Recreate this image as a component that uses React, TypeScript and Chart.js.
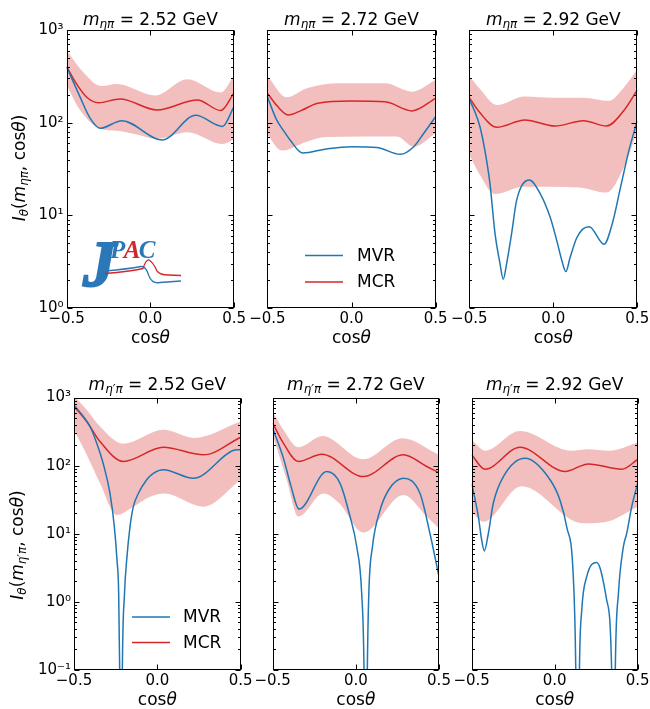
import React, { useEffect, useRef } from 'react';
import { Chart, registerables } from 'chart.js';

Chart.register(...registerables);

type Pt = [number, number];

const BLUE = '#1f77b4';
const RED = '#d62728';
const BAND = 'rgba(214, 39, 40, 0.3)';
const LOGO_BLUE = '#2b78b8';
const FONT = '"DejaVu Sans", sans-serif';

const xTicks = [-0.5, 0, 0.5];
const yTicksTop = [1, 10, 100, 1000];
const yTicksBottom = [0.1, 1, 10, 100, 1000];
const masses = ['2.52', '2.72', '2.92'];
const legendLabels = ['MVR', 'MCR'];

// ---------- eta pi, 2.52 GeV ----------
const mvrEtaPi252: Pt[] = [[-0.5, 400], [-0.42, 190], [-0.36, 112], [-0.3, 87], [-0.17, 105], [0.07, 65], [0.27, 120], [0.43, 91], [0.5, 151]];
const mcrEtaPi252: Pt[] = [[-0.5, 402], [-0.44, 260], [-0.38, 188], [-0.31, 164], [-0.18, 180], [0.04, 137], [0.28, 176], [0.42, 135], [0.5, 211]];
const hiEtaPi252: Pt[] = [[-0.5, 608], [-0.42, 385], [-0.29, 248], [-0.2, 262], [0.03, 197], [0.22, 294], [0.42, 211], [0.5, 327]];
const loEtaPi252: Pt[] = [[-0.5, 255], [-0.42, 137], [-0.3, 86], [-0.2, 82], [-0.1, 76], [0.04, 67], [0.22, 79], [0.43, 59], [0.5, 66]];

// ---------- eta pi, 2.72 GeV ----------
const mvrEtaPi272: Pt[] = [[-0.5, 190], [-0.445, 107], [-0.4, 80], [-0.365, 65], [-0.29, 47], [-0.15, 52], [0.0, 55], [0.15, 54], [0.29, 45.5], [0.37, 55], [0.43, 77], [0.5, 116]];
const mcrEtaPi272: Pt[] = [[-0.5, 208], [-0.44, 150], [-0.375, 121], [-0.3, 135], [-0.2, 162], [0.0, 171], [0.2, 168], [0.36, 134], [0.5, 183]];
const hiEtaPi272: Pt[] = [[-0.5, 319], [-0.385, 188], [-0.27, 234], [-0.07, 266], [0.2, 266], [0.36, 216], [0.5, 288]];
const loEtaPi272: Pt[] = [[-0.5, 74], [-0.415, 50], [-0.27, 62], [-0.15, 70], [0.27, 71], [0.37, 55], [0.5, 77]];

// ---------- eta pi, 2.92 GeV ----------
const mvrEtaPi292: Pt[] = [[-0.5, 179], [-0.47, 135], [-0.437, 91], [-0.407, 50], [-0.377, 22], [-0.347, 6.4], [-0.317, 3.0], [-0.298, 2.04], [-0.278, 3.0], [-0.248, 6.4], [-0.218, 14.6], [-0.143, 24], [-0.079, 17.3], [-0.02, 9.7], [0.02, 5.4], [0.05, 3.3], [0.075, 2.47], [0.1, 3.5], [0.139, 5.7], [0.175, 7.1], [0.214, 7.55], [0.302, 4.87], [0.35, 8], [0.4, 20], [0.45, 50], [0.5, 105]];
const mcrEtaPi292: Pt[] = [[-0.5, 186], [-0.44, 130], [-0.337, 89], [-0.169, 107], [0.01, 92], [0.18, 105], [0.317, 92], [0.42, 135], [0.5, 225]];
const hiEtaPi292: Pt[] = [[-0.5, 319], [-0.44, 235], [-0.337, 155], [-0.17, 192], [0.0, 186], [0.18, 186], [0.33, 172], [0.42, 240], [0.5, 377]];
const loEtaPi292: Pt[] = [[-0.5, 45], [-0.44, 28], [-0.347, 17], [-0.18, 20.4], [0.15, 20], [0.317, 17.6], [0.42, 33], [0.5, 82]];

// ---------- eta' pi, 2.52 GeV ----------
const mvrEtaPrPi252: Pt[] = [[-0.5, 780], [-0.404, 375], [-0.364, 214], [-0.32, 97], [-0.284, 39], [-0.258, 12.7], [-0.242, 4.1], [-0.232, 1.34], [-0.226, 0.1], [-0.218, 0.0001], [-0.21, 0.1], [-0.197, 1.34], [-0.184, 4.1], [-0.164, 12.7], [-0.144, 25], [-0.114, 39], [-0.064, 62], [-0.024, 77], [0.036, 87], [0.216, 65], [0.45, 165], [0.5, 172]];
const mcrEtaPrPi252: Pt[] = [[-0.5, 738], [-0.424, 444], [-0.344, 226], [-0.204, 115], [0.036, 186], [0.276, 144], [0.5, 261]];
const hiEtaPrPi252: Pt[] = [[-0.5, 1050], [-0.424, 660], [-0.344, 375], [-0.204, 209], [0.036, 335], [0.22, 255], [0.5, 444]];
const loEtaPrPi252: Pt[] = [[-0.5, 335], [-0.424, 144], [-0.344, 55], [-0.244, 18.9], [-0.144, 25], [-0.044, 35], [0.04, 39], [0.276, 25], [0.5, 62]];

// ---------- eta' pi, 2.72 GeV ----------
const mvrEtaPrPi272: Pt[] = [[-0.5, 355], [-0.436, 130], [-0.39, 50], [-0.342, 23], [-0.175, 82], [-0.095, 55], [-0.035, 17.9], [0.005, 6.5], [0.035, 1.34], [0.049, 0.1], [0.059, 0.0001], [0.069, 0.1], [0.078, 1.34], [0.1, 6.5], [0.145, 22], [0.2, 45], [0.286, 65], [0.386, 39], [0.446, 10], [0.5, 2.35]];
const mcrEtaPrPi272: Pt[] = [[-0.5, 420], [-0.436, 214], [-0.346, 115], [-0.205, 147], [0.045, 69], [0.286, 144], [0.426, 97], [0.5, 79]];
const hiEtaPrPi272: Pt[] = [[-0.5, 622], [-0.436, 335], [-0.346, 186], [-0.2, 273], [0.045, 124], [0.28, 253], [0.5, 144]];
const loEtaPrPi272: Pt[] = [[-0.5, 283], [-0.416, 62], [-0.346, 17.9], [-0.195, 39], [-0.1, 28], [0.045, 10.4], [0.286, 37], [0.426, 17.9], [0.5, 12]];

// ---------- eta' pi, 2.92 GeV ----------
const mvrEtaPrPi292: Pt[] = [[-0.5, 55], [-0.46, 17.9], [-0.44, 8.1], [-0.424, 5.6], [-0.4, 10], [-0.37, 28], [-0.309, 69], [-0.179, 128], [-0.028, 62], [0.032, 31], [0.072, 12.7], [0.112, 2.35], [0.127, 0.1], [0.138, 0.0001], [0.149, 0.1], [0.163, 0.76], [0.193, 2.35], [0.253, 3.78], [0.313, 1.07], [0.343, 0.1], [0.354, 0.0001], [0.365, 0.1], [0.384, 1.34], [0.414, 6.5], [0.434, 10.2], [0.464, 25], [0.5, 55]];
const mcrEtaPrPi292: Pt[] = [[-0.5, 144], [-0.42, 88.5], [-0.209, 186], [0.062, 82], [0.203, 106], [0.404, 88.5], [0.5, 123]];
const hiEtaPrPi292: Pt[] = [[-0.5, 239], [-0.42, 166], [-0.21, 323], [0.1, 166], [0.2, 174], [0.33, 165], [0.5, 218]];
const loEtaPrPi292: Pt[] = [[-0.5, 21], [-0.43, 15], [-0.2, 50], [0.17, 14.3], [0.3, 14.8], [0.5, 25]];

type Seg = { t: string; it?: boolean; sub?: boolean };

function drawRich(ctx: CanvasRenderingContext2D, segs: Seg[], x: number, y: number, size: number, align: 'center' | 'left') {
  const fonts = segs.map((s) => `${s.it ? 'italic ' : ''}${(s.sub ? size * 0.7 : size).toFixed(2)}px ${FONT}`);
  const widths = segs.map((s, i) => {
    ctx.font = fonts[i];
    return ctx.measureText(s.t).width;
  });
  const total = widths.reduce((a, b) => a + b, 0);
  let px = align === 'center' ? x - total / 2 : x;
  ctx.textAlign = 'left';
  ctx.textBaseline = 'alphabetic';
  segs.forEach((s, i) => {
    ctx.font = fonts[i];
    ctx.fillText(s.t, px, y + (s.sub ? size * 0.2 : 0));
    px += widths[i];
  });
}

const SUP: Record<string, string> = { '-': '\u207b', '0': '\u2070', '1': '\u00b9', '2': '\u00b2', '3': '\u00b3' };
const fmtLog = (v: number) => '10' + String(Math.round(Math.log10(v))).split('').map((c) => SUP[c]).join('');
const fmtX = (v: number) => (v < 0 ? '\u2212' : '') + Math.abs(v).toFixed(1);

interface Legend { x0: number; x1: number; tx: number; y1: number; y2: number }
interface PanelCfg {
  area: [number, number, number, number];
  yTicks: number[];
  mvr: Pt[]; mcr: Pt[]; hi: Pt[]; lo: Pt[];
  meson: string; mass: string;
  showY: boolean;
  ylabel?: { x: number; y: number };
  titleDy: number;
  legend?: Legend;
  logo?: boolean;
}

const panels: PanelCfg[] = [
  { area: [66.6, 30, 234.2, 308], yTicks: yTicksTop, mvr: mvrEtaPi252, mcr: mcrEtaPi252, hi: hiEtaPi252, lo: loEtaPi252, meson: '\u03b7\u03c0', mass: masses[0], showY: true, ylabel: { x: 25, y: 168 }, titleDy: 5, logo: true },
  { area: [267.4, 30, 435.6, 308], yTicks: yTicksTop, mvr: mvrEtaPi272, mcr: mcrEtaPi272, hi: hiEtaPi272, lo: loEtaPi272, meson: '\u03b7\u03c0', mass: masses[1], showY: false, titleDy: 5, legend: { x0: 305, x1: 343, tx: 357, y1: 255.5, y2: 282 } },
  { area: [469.3, 30, 637.3, 308], yTicks: yTicksTop, mvr: mvrEtaPi292, mcr: mcrEtaPi292, hi: hiEtaPi292, lo: loEtaPi292, meson: '\u03b7\u03c0', mass: masses[2], showY: false, titleDy: 5 },
  { area: [74, 397.5, 240.7, 670], yTicks: yTicksBottom, mvr: mvrEtaPrPi252, mcr: mcrEtaPrPi252, hi: hiEtaPrPi252, lo: loEtaPrPi252, meson: '\u03b7\u2032\u03c0', mass: masses[0], showY: true, ylabel: { x: 23, y: 545 }, titleDy: 7.5, legend: { x0: 132, x1: 170, tx: 183, y1: 617, y2: 642.5 } },
  { area: [272.7, 397.5, 439, 670], yTicks: yTicksBottom, mvr: mvrEtaPrPi272, mcr: mcrEtaPrPi272, hi: hiEtaPrPi272, lo: loEtaPrPi272, meson: '\u03b7\u2032\u03c0', mass: masses[1], showY: false, titleDy: 7.5 },
  { area: [471.7, 397.5, 637.7, 670], yTicks: yTicksBottom, mvr: mvrEtaPrPi292, mcr: mcrEtaPrPi292, hi: hiEtaPrPi292, lo: loEtaPrPi292, meson: '\u03b7\u2032\u03c0', mass: masses[2], showY: false, titleDy: 7.5 },
];

const PADL = 72, PADT = 34, PADR = 22, PADB = 48;

function Panel({ cfg }: { cfg: PanelCfg }) {
  const ref = useRef<HTMLCanvasElement>(null);
  const [L, T, R, B] = cfg.area;
  const cx = Math.floor(L) - PADL;
  const cy = Math.floor(T) - PADT;
  const cw = Math.ceil(R) + PADR - cx;
  const ch = Math.ceil(B) + PADB - cy;

  useEffect(() => {
    const canvas = ref.current!;
    const yMin = cfg.yTicks[0];
    const yMax = cfg.yTicks[cfg.yTicks.length - 1];
    const toXY = (pts: Pt[]) => pts.map(([x, y]) => ({ x, y }));

    const deco = {
      id: 'deco',
      afterDatasetsDraw(chart: any) {
        const ctx: CanvasRenderingContext2D = chart.ctx;
        const a = chart.chartArea;
        const xs = chart.scales.x;
        const ys = chart.scales.y;
        ctx.save();
        ctx.strokeStyle = '#000';
        ctx.lineWidth = 1;
        const l = Math.round(a.left) + 0.5, r = Math.round(a.right) - 0.5;
        const t = Math.round(a.top) + 0.5, b = Math.round(a.bottom) - 0.5;
        ctx.beginPath();
        const e0 = Math.round(Math.log10(yMin));
        const e1 = Math.round(Math.log10(yMax));
        for (let e = e0; e <= e1; e++) {
          for (let k = 1; k <= 9; k++) {
            const v = k * Math.pow(10, e);
            if (v > yMax * 1.0001) break;
            const py = Math.round(ys.getPixelForValue(v)) + 0.5;
            const len = k === 1 ? 5 : 2.5;
            ctx.moveTo(l, py); ctx.lineTo(l + len, py);
            ctx.moveTo(r, py); ctx.lineTo(r - len, py);
          }
        }
        for (const v of xTicks) {
          const px = Math.round(xs.getPixelForValue(v)) + 0.5;
          ctx.moveTo(px, b); ctx.lineTo(px, b - 5);
          ctx.moveTo(px, t); ctx.lineTo(px, t + 5);
        }
        ctx.stroke();
        ctx.strokeRect(l, t, r - l, b - t);

        ctx.fillStyle = '#000';
        const midX = (a.left + a.right) / 2;
        drawRich(ctx, [
          { t: 'm', it: true },
          { t: cfg.meson, it: true, sub: true },
          { t: ' = ' + cfg.mass + ' GeV' },
        ], midX, a.top - cfg.titleDy, 17, 'center');
        drawRich(ctx, [{ t: 'cos' }, { t: '\u03b8', it: true }], midX, a.bottom + 35.3, 17, 'center');
        if (cfg.ylabel) {
          ctx.save();
          ctx.translate(cfg.ylabel.x - cx, cfg.ylabel.y - cy);
          ctx.rotate(-Math.PI / 2);
          drawRich(ctx, [
            { t: 'I', it: true },
            { t: '\u03b8', it: true, sub: true },
            { t: '(' },
            { t: 'm', it: true },
            { t: cfg.meson, it: true, sub: true },
            { t: ', cos' },
            { t: '\u03b8', it: true },
            { t: ')' },
          ], 0, 0, 17, 'center');
          ctx.restore();
        }
        if (cfg.legend) {
          const lg = cfg.legend;
          const rows: [string, string, number][] = [[legendLabels[0], BLUE, lg.y1], [legendLabels[1], RED, lg.y2]];
          for (const [lab, col, yy] of rows) {
            ctx.strokeStyle = col;
            ctx.lineWidth = 1.5;
            ctx.beginPath();
            ctx.moveTo(lg.x0 - cx, yy - cy);
            ctx.lineTo(lg.x1 - cx, yy - cy);
            ctx.stroke();
            ctx.fillStyle = '#000';
            ctx.font = `17px ${FONT}`;
            ctx.textAlign = 'left';
            ctx.textBaseline = 'middle';
            ctx.fillText(lab, lg.tx - cx, yy - cy + 1);
          }
        }
        if (cfg.logo) {
          const ox = -cx, oy = -cy;
          ctx.textAlign = 'left';
          ctx.textBaseline = 'alphabetic';
          ctx.font = 'italic bold 66px "Liberation Serif", serif';
          ctx.fillStyle = LOGO_BLUE;
          ctx.strokeStyle = LOGO_BLUE;
          ctx.lineWidth = 2;
          ctx.fillText('J', 83 + ox, 286 + oy);
          ctx.strokeText('J', 83 + ox, 286 + oy);
          ctx.font = 'italic bold 25px "Liberation Serif", serif';
          let px = 110 + ox;
          const letters: [string, string][] = [['P', LOGO_BLUE], ['A', RED], ['C', LOGO_BLUE]];
          for (const [ch2, col] of letters) {
            ctx.fillStyle = col;
            ctx.fillText(ch2, px, 258 + oy);
            px += ctx.measureText(ch2).width * 0.9;
          }
          ctx.lineWidth = 1.3;
          ctx.strokeStyle = LOGO_BLUE;
          ctx.beginPath();
          ctx.moveTo(105 + ox, 271 + oy);
          ctx.quadraticCurveTo(128 + ox, 269 + oy, 141 + ox, 266.5 + oy);
          ctx.quadraticCurveTo(146 + ox, 266 + oy, 149 + ox, 276 + oy);
          ctx.quadraticCurveTo(152 + ox, 284 + oy, 160 + ox, 282.5 + oy);
          ctx.lineTo(181 + ox, 281 + oy);
          ctx.stroke();
          ctx.strokeStyle = RED;
          ctx.beginPath();
          ctx.moveTo(105 + ox, 273.5 + oy);
          ctx.quadraticCurveTo(130 + ox, 271.5 + oy, 143 + ox, 268.5 + oy);
          ctx.quadraticCurveTo(146 + ox, 259.5 + oy, 149 + ox, 260 + oy);
          ctx.quadraticCurveTo(153 + ox, 262 + oy, 157 + ox, 271 + oy);
          ctx.quadraticCurveTo(160 + ox, 275 + oy, 168 + ox, 275 + oy);
          ctx.lineTo(181 + ox, 275.5 + oy);
          ctx.stroke();
        }
        ctx.restore();
      },
    };

    const lineDs = (pts: Pt[], color: string, order: number) => ({
      data: toXY(pts),
      borderColor: color,
      backgroundColor: color,
      borderWidth: 1.5,
      pointRadius: 0,
      fill: false,
      cubicInterpolationMode: 'monotone' as const,
      order,
    });

    const chart = new Chart(canvas, {
      type: 'line',
      data: {
        datasets: [
          lineDs(cfg.mvr, BLUE, 0),
          lineDs(cfg.mcr, RED, 1),
          { data: toXY(cfg.hi), borderWidth: 0, borderColor: 'rgba(0,0,0,0)', backgroundColor: BAND, pointRadius: 0, fill: '+1', cubicInterpolationMode: 'monotone', order: 2 },
          { data: toXY(cfg.lo), borderWidth: 0, borderColor: 'rgba(0,0,0,0)', backgroundColor: BAND, pointRadius: 0, fill: false, cubicInterpolationMode: 'monotone', order: 3 },
        ],
      } as any,
      options: {
        animation: false,
        responsive: false,
        events: [],
        layout: { padding: { left: 0, top: T - cy, right: cx + cw - R, bottom: 0 } },
        plugins: { legend: { display: false }, tooltip: { enabled: false }, title: { display: false } },
        scales: {
          x: {
            type: 'linear',
            min: -0.5,
            max: 0.5,
            afterFit: (s: any) => { s.height = cy + ch - B; },
            afterBuildTicks: (s: any) => { s.ticks = xTicks.map((v) => ({ value: v })); },
            ticks: {
              callback: (v: any) => fmtX(Number(v)),
              font: { family: FONT, size: 15 },
              color: '#000',
              padding: 2,
              maxRotation: 0,
              autoSkip: false,
            },
            grid: { display: false, drawTicks: false },
            border: { display: false },
          },
          y: {
            type: 'logarithmic',
            min: yMin,
            max: yMax,
            afterFit: (s: any) => { s.width = L - cx; },
            afterBuildTicks: (s: any) => { s.ticks = cfg.yTicks.map((v) => ({ value: v })); },
            ticks: {
              display: cfg.showY,
              callback: (v: any) => fmtLog(Number(v)),
              font: { family: FONT, size: 15 },
              color: '#000',
              padding: 3,
              autoSkip: false,
            },
            grid: { display: false, drawTicks: false },
            border: { display: false },
          },
        },
      } as any,
      plugins: [deco],
    });
    return () => chart.destroy();
  }, []);

  return (
    <canvas
      ref={ref}
      width={cw}
      height={ch}
      style={{ position: 'absolute', left: cx, top: cy, width: cw, height: ch }}
    />
  );
}

export default function App() {
  return (
    <div style={{ position: 'absolute', left: 0, top: 0, width: 650, height: 709, overflow: 'hidden', background: '#fff' }}>
      {panels.map((p, i) => (
        <Panel key={i} cfg={p} />
      ))}
    </div>
  );
}
